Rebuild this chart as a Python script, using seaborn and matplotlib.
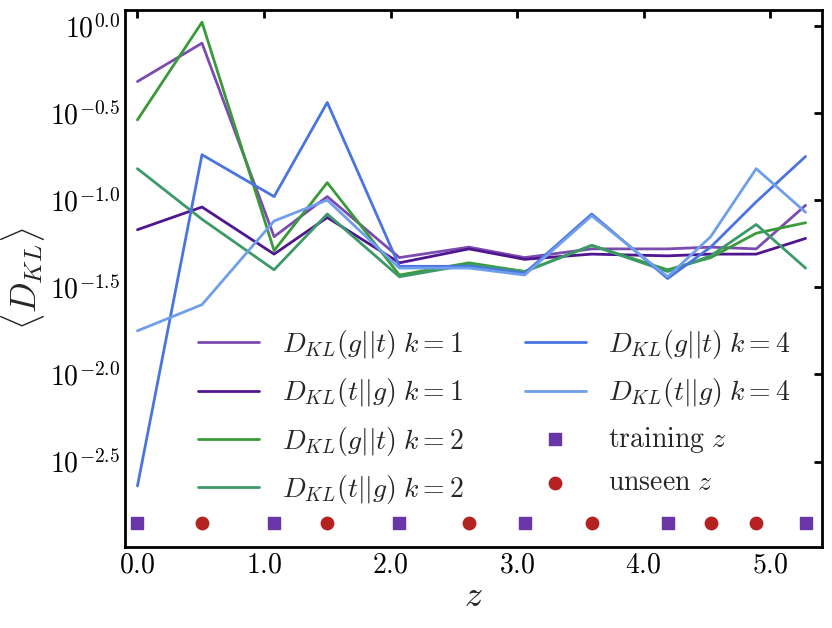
import numpy as np
import pandas as pd
import matplotlib
matplotlib.use('Agg')
import matplotlib.pyplot as plt
import seaborn as sns

# redshift grid (training + unseen)
z = [0.0, 0.51, 1.08, 1.50, 2.07, 2.62, 3.06, 3.59, 4.19, 4.53, 4.89, 5.28]
z_train = [0.0, 1.08, 2.07, 3.06, 4.19, 5.28]
z_unseen = [0.51, 1.50, 2.62, 3.59, 4.53, 4.89]

# log10 <D_KL>
gt_k1 = [-0.32, -0.10, -1.21, -0.98, -1.33, -1.27, -1.33, -1.28, -1.28, -1.27, -1.28, -1.03]
tg_k1 = [-1.17, -1.04, -1.31, -1.10, -1.36, -1.28, -1.34, -1.31, -1.32, -1.31, -1.31, -1.22]
gt_k2 = [-0.54, 0.02, -1.29, -0.90, -1.43, -1.36, -1.41, -1.26, -1.40, -1.33, -1.19, -1.13]
tg_k2 = [-0.82, -1.11, -1.40, -1.08, -1.44, -1.37, -1.41, -1.26, -1.41, -1.32, -1.14, -1.39]
gt_k4 = [-2.64, -0.74, -0.98, -0.44, -1.38, -1.38, -1.42, -1.08, -1.45, -1.27, -1.01, -0.75]
tg_k4 = [-1.75, -1.60, -1.12, -1.00, -1.39, -1.39, -1.43, -1.09, -1.44, -1.21, -0.82, -1.07]

series = [
    (gt_k1, r'$D_{KL}(g||t)\;k=1$', '#7b4bb0'),
    (tg_k1, r'$D_{KL}(t||g)\;k=1$', '#4f1690'),
    (gt_k2, r'$D_{KL}(g||t)\;k=2$', '#3a9a3a'),
    (tg_k2, r'$D_{KL}(t||g)\;k=2$', '#3c9a68'),
    (gt_k4, r'$D_{KL}(g||t)\;k=4$', '#4a74e0'),
    (tg_k4, r'$D_{KL}(t||g)\;k=4$', '#6f9eec'),
]

sns.set_style('white')
plt.rcParams['font.family'] = 'serif'
plt.rcParams['font.serif'] = ['cmr10', 'DejaVu Serif']
plt.rcParams['mathtext.fontset'] = 'cm'
plt.rcParams['axes.unicode_minus'] = False

fig, ax = plt.subplots(figsize=(8.32, 6.28), dpi=100)
for vals, lab, col in series:
    df = pd.DataFrame({'z': z, 'v': vals})
    sns.lineplot(data=df, x='z', y='v', ax=ax, color=col, lw=2, label=lab)

marker_y = -2.85
ax.scatter(z_train, [marker_y] * len(z_train), marker='s', s=80, color='#6a35a6', label=r'$\mathrm{training}\ z$', zorder=3)
ax.scatter(z_unseen, [marker_y] * len(z_unseen), marker='o', s=80, color='#b52222', label=r'$\mathrm{unseen}\ z$', zorder=3)

ax.set_xlim(-0.10, 5.41)
ax.set_ylim(-2.99, 0.09)
yt = [0.0, -0.5, -1.0, -1.5, -2.0, -2.5]
ax.set_yticks(yt)
ax.set_yticklabels([r'$10^{%.1f}$' % v if v != 0 else r'$10^{0.0}$' for v in yt], fontsize=20)
xt = [0.0, 1.0, 2.0, 3.0, 4.0, 5.0]
ax.set_xticks(xt)
ax.set_xticklabels([r'$%.1f$' % v for v in xt], fontsize=20)
ax.tick_params(direction='in', top=True, right=True, length=6, width=2, colors='black')
for s in ax.spines.values():
    s.set_linewidth(2)
    s.set_color('black')
ax.set_xlabel(r'$z$', fontsize=26, labelpad=2)
ax.set_ylabel(r'$\langle D_{KL}\rangle$', fontsize=26, labelpad=2)
ax.legend(ncol=2, fontsize=20, frameon=False, loc='lower center', bbox_to_anchor=(0.53, 0.03),
          columnspacing=2.2, labelspacing=0.55, handlelength=2.2)
plt.subplots_adjust(left=0.15, right=0.988, top=0.984, bottom=0.129)
plt.savefig('out.png')
